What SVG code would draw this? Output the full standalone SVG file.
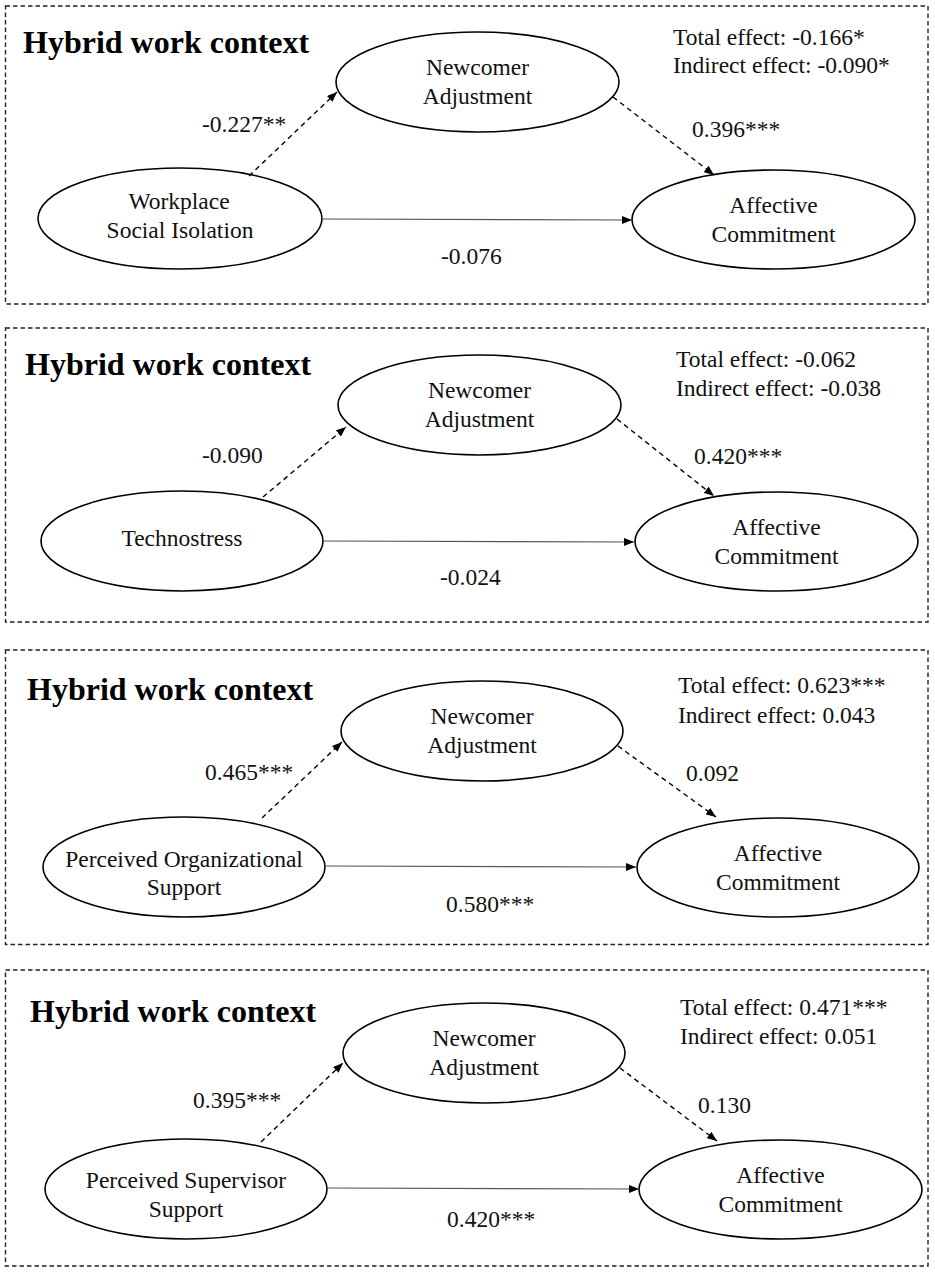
<svg xmlns="http://www.w3.org/2000/svg" width="935" height="1272" viewBox="0 0 935 1272">
<style>
.frame{fill:none;stroke:#222;stroke-width:1.4;stroke-dasharray:4.5 3}
.node{fill:#fff;stroke:#000;stroke-width:1.6}
.t{font-family:"Liberation Serif","Times New Roman",serif;font-size:23.5px;fill:#111}
.c{text-anchor:middle}
.title{font-family:"Liberation Serif","Times New Roman",serif;font-size:32px;font-weight:bold;fill:#000}
.dash{fill:none;stroke:#000;stroke-width:1.4;stroke-dasharray:5 4;marker-end:url(#ah)}
.solid{fill:none;stroke:#555;stroke-width:1.2;marker-end:url(#ah)}
</style>
<defs>
<marker id="ah" markerUnits="userSpaceOnUse" markerWidth="10" markerHeight="8" refX="10" refY="4" orient="auto">
<path d="M0,0 L10,4 L0,8 z" fill="#000"/>
</marker>
</defs>
<rect width="935" height="1272" fill="#fff"/>

<!-- Panel 1 -->
<g id="panel1">
<rect class="frame" x="5.5" y="6" width="922.5" height="298"/>
<text class="title" x="23" y="53">Hybrid work context</text>
<text class="t" x="673" y="45">Total effect: -0.166*</text>
<text class="t" x="673" y="73">Indirect effect: -0.090*</text>
<text class="t" x="202" y="132">-0.227**</text>
<text class="t" x="692" y="137">0.396***</text>
<text class="t" x="441" y="264">-0.076</text>
</g>
<g id="p1-newcomer"><ellipse class="node" cx="477.5" cy="82" rx="141.5" ry="50"/><text class="t c" x="477.5" y="75">Newcomer</text><text class="t c" x="477.5" y="104">Adjustment</text></g>
<g id="p1-wsi"><ellipse class="node" cx="180" cy="218.5" rx="142" ry="50.5"/><text class="t c" x="179" y="209">Workplace</text><text class="t c" x="180" y="238">Social Isolation</text></g>
<g id="p1-affective"><ellipse class="node" cx="773.5" cy="219.5" rx="141.5" ry="49.5"/><text class="t c" x="773.5" y="213">Affective</text><text class="t c" x="773.5" y="242">Commitment</text></g>

<!-- Panel 2 -->
<g id="panel2">
<rect class="frame" x="5.5" y="328" width="922.5" height="294"/>
<text class="title" x="25" y="375">Hybrid work context</text>
<text class="t" x="676" y="367">Total effect: -0.062</text>
<text class="t" x="676" y="396">Indirect effect: -0.038</text>
<text class="t" x="202" y="463">-0.090</text>
<text class="t" x="694" y="464">0.420***</text>
<text class="t" x="440" y="585">-0.024</text>
</g>
<g id="p2-newcomer"><ellipse class="node" cx="479.5" cy="405" rx="141.5" ry="50"/><text class="t c" x="479.5" y="398">Newcomer</text><text class="t c" x="479.5" y="427">Adjustment</text></g>
<g id="p2-techno"><ellipse class="node" cx="182" cy="541" rx="141" ry="50"/><text class="t c" x="182" y="546">Technostress</text></g>
<g id="p2-affective"><ellipse class="node" cx="776.5" cy="541.5" rx="141.5" ry="49.5"/><text class="t c" x="776.5" y="535">Affective</text><text class="t c" x="776.5" y="564">Commitment</text></g>

<!-- Panel 3 -->
<g id="panel3">
<rect class="frame" x="5.5" y="650" width="922.5" height="294.5"/>
<text class="title" x="27" y="700">Hybrid work context</text>
<text class="t" x="678" y="693">Total effect: 0.623***</text>
<text class="t" x="678" y="723">Indirect effect: 0.043</text>
<text class="t" x="205" y="780">0.465***</text>
<text class="t" x="686" y="781">0.092</text>
<text class="t" x="446" y="912">0.580***</text>
</g>
<g id="p3-newcomer"><ellipse class="node" cx="482" cy="731" rx="141" ry="50"/><text class="t c" x="482" y="724">Newcomer</text><text class="t c" x="482" y="753">Adjustment</text></g>
<g id="p3-pos"><ellipse class="node" cx="184" cy="867" rx="141" ry="50"/><text class="t c" x="184" y="867">Perceived Organizational</text><text class="t c" x="184" y="895">Support</text></g>
<g id="p3-affective"><ellipse class="node" cx="778" cy="867.5" rx="141" ry="49.5"/><text class="t c" x="778" y="861">Affective</text><text class="t c" x="778" y="890">Commitment</text></g>

<!-- Panel 4 -->
<g id="panel4">
<rect class="frame" x="5.5" y="970" width="922.5" height="296"/>
<text class="title" x="30" y="1022">Hybrid work context</text>
<text class="t" x="680" y="1015">Total effect: 0.471***</text>
<text class="t" x="680" y="1044">Indirect effect: 0.051</text>
<text class="t" x="193" y="1108">0.395***</text>
<text class="t" x="698" y="1113">0.130</text>
<text class="t" x="447" y="1227">0.420***</text>
</g>
<g id="p4-newcomer"><ellipse class="node" cx="484" cy="1053" rx="141" ry="50"/><text class="t c" x="484" y="1046">Newcomer</text><text class="t c" x="484" y="1075">Adjustment</text></g>
<g id="p4-pss"><ellipse class="node" cx="186" cy="1189" rx="141" ry="50"/><text class="t c" x="186" y="1188">Perceived Supervisor</text><text class="t c" x="186" y="1217">Support</text></g>
<g id="p4-affective"><ellipse class="node" cx="780.5" cy="1189.5" rx="141.5" ry="49.5"/><text class="t c" x="780.5" y="1183">Affective</text><text class="t c" x="780.5" y="1212">Commitment</text></g>

<g id="connectors">
<line class="dash" x1="249" y1="176" x2="337" y2="92"/>
<line class="dash" x1="613" y1="97" x2="714" y2="175"/>
<line class="solid" x1="322" y1="219" x2="632" y2="220"/>

<line class="dash" x1="263" y1="497" x2="346" y2="427"/>
<line class="dash" x1="617" y1="419" x2="714" y2="496"/>
<line class="solid" x1="323" y1="541" x2="634" y2="542"/>

<line class="dash" x1="262" y1="818" x2="342" y2="742"/>
<line class="dash" x1="618" y1="746" x2="716" y2="817"/>
<line class="solid" x1="325" y1="866" x2="636" y2="867"/>

<line class="dash" x1="261" y1="1142" x2="343" y2="1063"/>
<line class="dash" x1="620" y1="1068" x2="717" y2="1141"/>
<line class="solid" x1="327" y1="1188" x2="639" y2="1189"/>
</g>
</svg>
